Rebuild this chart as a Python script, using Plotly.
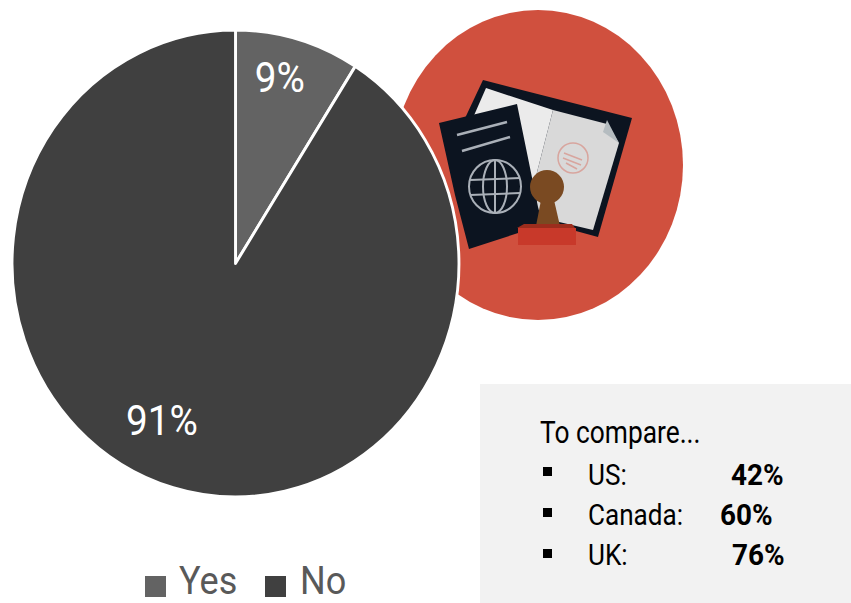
import plotly.graph_objects as go

W, H = 851, 603

# ---- data ----
labels = ["Yes", "No"]
values = [9, 91]
colors = ["#636363", "#404040"]
compare_countries = ["US:", "Canada:", "UK:"]
compare_values = [42, 60, 76]
compare_title = "To compare..."

FONT = "Roboto, sans-serif"


def X(v):
    return v / W


def Y(v):
    return 1 - v / H


def path(points, close=True):
    d = "M" + " L".join(f"{X(a):.5f},{Y(b):.5f}" for a, b in points)
    return d + (" Z" if close else "")


def poly(points, fill, line=None, lw=0, close=True):
    return dict(type="path", xref="paper", yref="paper", layer="below", path=path(points, close),
                fillcolor=fill if close else "rgba(0,0,0,0)",
                line=dict(color=line or fill, width=lw))


def ell(x0, y0, x1, y1, fill, line=None, lw=0):
    return dict(type="circle", xref="paper", yref="paper", layer="below",
                x0=X(x0), x1=X(x1), y0=Y(y1), y1=Y(y0),
                fillcolor=fill, line=dict(color=line or fill, width=lw))


def rect(x0, y0, x1, y1, fill):
    return dict(type="rect", xref="paper", yref="paper", layer="below",
                x0=X(x0), x1=X(x1), y0=Y(y1), y1=Y(y0),
                fillcolor=fill, line=dict(width=0))


NAVY = "#0c1420"
GLOBE = "#aab0b8"
shapes = [
    rect(480, 384, 851, 603, "#f2f2f2"),
    ell(393, 10, 683, 320, "#d0503e"),
    # open book
    poly([(483, 80), (632, 118), (598, 237), (480, 205), (450, 150)], NAVY),
    poly([(486, 88), (553, 110), (535, 180), (480, 170), (472, 120)], "#ebebeb"),
    poly([(553, 110), (607, 124), (619, 143), (593, 230), (538, 217), (535, 180)], "#d9d9d9"),
    poly([(607, 120), (603, 132), (619, 143)], "#b5bcc0"),
    ell(558, 143, 588, 173, "rgba(0,0,0,0)", "#d8a59e", 1.5),
    poly([(564, 153), (582, 160)], "#d8a59e", "#d8a59e", 1.5, False),
    poly([(563, 158), (581, 165)], "#d8a59e", "#d8a59e", 1.5, False),
    poly([(566, 163), (577, 169)], "#d8a59e", "#d8a59e", 1.5, False),
    # passport cover
    poly([(439, 123), (517, 104), (538, 207), (543, 225), (469, 249), (455, 195)], NAVY),
    poly([(457, 135), (507, 122)], GLOBE, GLOBE, 2.5, False),
    poly([(462, 151), (510, 137)], GLOBE, GLOBE, 2.5, False),
    ell(469, 160, 521, 213, "rgba(0,0,0,0)", GLOBE, 2),
    ell(483, 160, 507, 213, "rgba(0,0,0,0)", GLOBE, 2),
    poly([(470, 180), (520, 178)], GLOBE, GLOBE, 2, False),
    poly([(470, 195), (520, 193)], GLOBE, GLOBE, 2, False),
    poly([(495, 160), (495, 213)], GLOBE, GLOBE, 2, False),
    # stamp
    ell(530, 170, 564, 204, "#7a4a22"),
    poly([(541, 200), (554, 200), (560, 226), (536, 226)], "#7a4a22"),
    poly([(517, 228), (524, 224), (572, 224), (575, 228)], "#9c2d1d"),
    rect(518, 228, 576, 245, "#c8392a"),
    # legend swatches
    rect(145, 576, 166, 597, colors[0]),
    rect(265, 576, 286, 597, colors[1]),
    # bullets
    rect(543, 467, 552, 476, "#000000"),
    rect(543, 508, 552, 517, "#000000"),
    rect(543, 549, 552, 558, "#000000"),
]


def note(text, x, y, size, color="#000000", anchor="left"):
    return dict(text=text, x=X(x), y=Y(y), xref="paper", yref="paper", showarrow=False,
                xanchor=anchor, yanchor="middle", align=anchor, borderpad=0,
                font=dict(family=FONT, size=size, color=color))


annotations = [
    note(f"{values[0]}%", 280, 77, 43, "#ffffff", "center"),
    note(f"{values[1]}%", 162, 420, 43, "#ffffff", "center"),
    note(labels[0], 178, 580.5, 38, "#595959"),
    note(labels[1], 299, 580.5, 38, "#595959"),
    note(compare_title, 539, 433, 31),
]
rows_y = [474, 514, 554]
value_x = [730, 719, 731]
for name, val, y, vx in zip(compare_countries, compare_values, rows_y, value_x):
    annotations.append(note(name, 587, y, 30))
    annotations.append(note(f"<b>{val}%</b>", vx, y, 30))

cx, cy, r = 235.5, 263.5, 233.5
fig = go.Figure(go.Pie(
    labels=labels,
    values=values,
    sort=False,
    direction="clockwise",
    rotation=0,
    marker=dict(colors=colors, line=dict(color="#ffffff", width=3)),
    textinfo="none",
    hoverinfo="label+percent",
    domain=dict(x=[X(cx - r), X(cx + r)], y=[Y(cy + r), Y(cy - r)]),
    showlegend=False,
))
fig.update_layout(
    width=W, height=H,
    margin=dict(l=0, r=0, t=0, b=0),
    paper_bgcolor="#ffffff",
    shapes=shapes,
    annotations=annotations,
)

post = f"""
document.body.style.margin = '0';
var notes = document.querySelectorAll('.annotation-text');
notes.forEach(function (t, i) {{
  var s = i < 2 ? 0.9 : (i < 4 ? 0.95 : (i === 4 ? 0.85 : (i % 2 === 1 ? 0.87 : 0.93)));
  t.style.transformBox = 'fill-box';
  t.style.transformOrigin = i < 2 ? 'center' : 'left center';
  t.style.transform = 'scaleX(' + s + ')';
}});
document.querySelectorAll('.pielayer .trace').forEach(function (g) {{
  g.style.transformOrigin = '{cx}px {cy}px';
  g.style.transform = 'scaleX(0.957)';
}});
"""
fig.write_html("out.html", post_script=post, config=dict(displayModeBar=False))
